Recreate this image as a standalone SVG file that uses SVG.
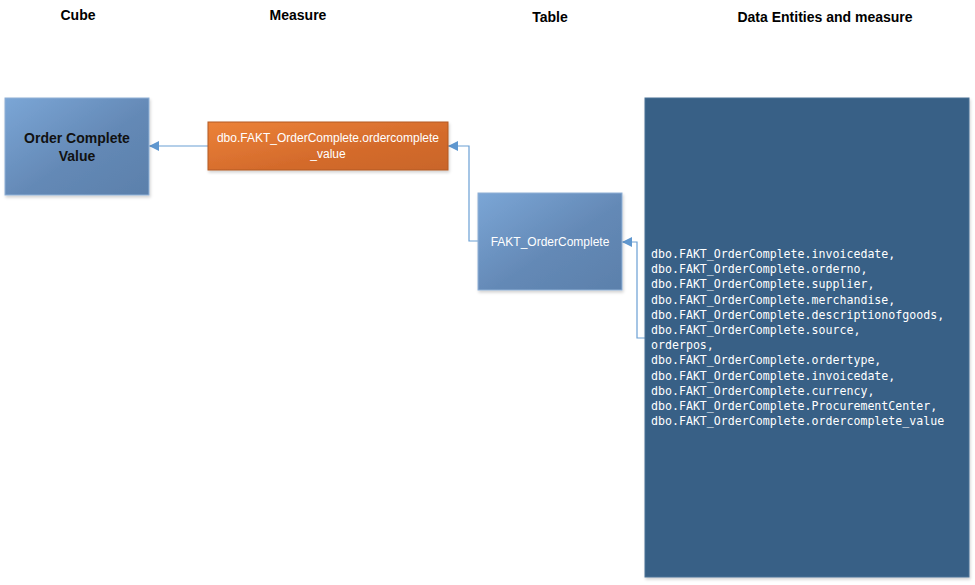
<svg xmlns="http://www.w3.org/2000/svg" width="975" height="585" viewBox="0 0 975 585">
  <defs>
    <linearGradient id="blueGrad" x1="0" y1="0" x2="1" y2="1">
      <stop offset="0" stop-color="#7ba6d6"/>
      <stop offset="0.55" stop-color="#6489b6"/>
      <stop offset="1" stop-color="#5b80ab"/>
    </linearGradient>
    <linearGradient id="orangeGrad" x1="0" y1="0" x2="1" y2="1">
      <stop offset="0" stop-color="#ec8238"/>
      <stop offset="0.6" stop-color="#d46b2c"/>
      <stop offset="1" stop-color="#c9652a"/>
    </linearGradient>
    <filter id="shadow" x="-10%" y="-10%" width="120%" height="120%">
      <feDropShadow dx="1" dy="2" stdDeviation="1.5" flood-color="#000" flood-opacity="0.18"/>
    </filter>
    <marker id="arrow" viewBox="0 0 10 10" refX="10" refY="5" markerWidth="10" markerHeight="10" markerUnits="userSpaceOnUse" orient="auto">
      <path d="M0,0 L10,5 L0,10 z" fill="#5f97cf"/>
    </marker>
  </defs>
  <style>
    .hdr { font-family: "Liberation Sans", Arial, sans-serif; font-weight: bold; font-size: 14px; fill: #000; text-anchor: middle; }
    .box-blue { fill: url(#blueGrad); stroke: #8fb0d6; stroke-width: 1; filter: url(#shadow); }
    .box-orange { fill: url(#orangeGrad); stroke: #b35a25; stroke-width: 1; filter: url(#shadow); }
    .box-dark { fill: #386186; stroke: #4a7396; stroke-width: 1; filter: url(#shadow); }
    .lbl-white { font-family: "Liberation Sans", Arial, sans-serif; font-size: 12px; fill: #ffffff; text-anchor: middle; }
    .lbl-bold { font-family: "Liberation Sans", Arial, sans-serif; font-weight: bold; font-size: 14px; fill: #111; text-anchor: middle; }
    .mono { font-family: "DejaVu Sans Mono", "Liberation Mono", monospace; font-size: 11.6px; fill: #ffffff; }
    .conn { fill: none; stroke: #6a9fd4; stroke-width: 1.2; marker-end: url(#arrow); }
  </style>

  <rect x="0" y="0" width="975" height="585" fill="#ffffff"/>

  <!-- column headings -->
  <g id="headers">
    <text class="hdr" x="78" y="20">Cube</text>
    <text class="hdr" x="298" y="20">Measure</text>
    <text class="hdr" x="550" y="22">Table</text>
    <text class="hdr" x="825" y="22">Data Entities and measure</text>
  </g>

  <!-- connectors -->
  <g id="connectors">
    <path class="conn" d="M208,146 L149,146"/>
    <path class="conn" d="M478,241 L469,241 L469,146 L448,146"/>
    <path class="conn" d="M645,338 L637,338 L637,242 L622,242"/>
  </g>

  <g id="cube">
    <rect class="box-blue" x="5" y="98" width="144" height="97"/>
    <text class="lbl-bold" x="77" y="143">Order Complete</text>
    <text class="lbl-bold" x="77" y="161">Value</text>
  </g>

  <g id="measure">
    <rect class="box-orange" x="208" y="122" width="240" height="48"/>
    <text class="lbl-white" x="328" y="142">dbo.FAKT_OrderComplete.ordercomplete</text>
    <text class="lbl-white" x="328" y="158">_value</text>
  </g>

  <g id="table">
    <rect class="box-blue" x="478" y="193" width="144" height="97"/>
    <text class="lbl-white" x="550" y="246">FAKT_OrderComplete</text>
  </g>

  <g id="entities">
    <rect class="box-dark" x="645" y="98" width="324" height="479"/>
    <text class="mono" x="651" y="258">dbo.FAKT_OrderComplete.invoicedate,</text>
    <text class="mono" x="651" y="273.2">dbo.FAKT_OrderComplete.orderno,</text>
    <text class="mono" x="651" y="288.4">dbo.FAKT_OrderComplete.supplier,</text>
    <text class="mono" x="651" y="303.6">dbo.FAKT_OrderComplete.merchandise,</text>
    <text class="mono" x="651" y="318.8">dbo.FAKT_OrderComplete.descriptionofgoods,</text>
    <text class="mono" x="651" y="334">dbo.FAKT_OrderComplete.source,</text>
    <text class="mono" x="651" y="349.2">orderpos,</text>
    <text class="mono" x="651" y="364.4">dbo.FAKT_OrderComplete.ordertype,</text>
    <text class="mono" x="651" y="379.6">dbo.FAKT_OrderComplete.invoicedate,</text>
    <text class="mono" x="651" y="394.8">dbo.FAKT_OrderComplete.currency,</text>
    <text class="mono" x="651" y="410">dbo.FAKT_OrderComplete.ProcurementCenter,</text>
    <text class="mono" x="651" y="425.2">dbo.FAKT_OrderComplete.ordercomplete_value</text>
  </g>
</svg>
